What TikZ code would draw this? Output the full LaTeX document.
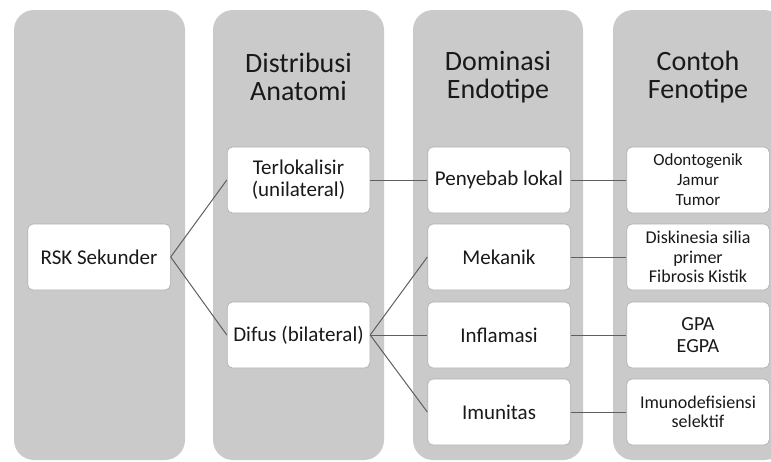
\documentclass[tikz,border=0pt]{standalone}
\usepackage{fontspec}
\setmainfont{Carlito}
\usetikzlibrary{positioning}

\definecolor{colbg}{RGB}{202,202,202}
\definecolor{boxline}{RGB}{175,175,175}
\definecolor{linegray}{RGB}{95,95,95}
\definecolor{teks}{RGB}{25,25,25}

\tikzset{
  kolom/.style={fill=colbg, rounded corners=15},
  kotak/.style={draw=boxline, fill=white, rounded corners=4, line width=0.5pt,
    minimum width=107pt, minimum height=49.5pt, align=center, inner sep=1pt,
    text=teks, font=\fontsize{15.75}{16.5}\selectfont},
  fenotipe/.style={kotak, font=\fontsize{13.5}{14.6}\selectfont},
  judul/.style={align=center, text=teks, font=\fontsize{21}{21}\selectfont},
  garis/.style={draw=linegray, line width=0.75pt},
}

\begin{document}
\begin{tikzpicture}[x=0.75pt, y=-0.75pt]
\useasboundingbox (0,0) rectangle (771,461);
\clip (0,0) rectangle (771,461);

% kolom latar
\fill[kolom] (14,10) rectangle (185,460);
\fill[kolom] (213,10) rectangle (384,460);
\fill[kolom] (413,10) rectangle (583,460);
\fill[kolom] (613,10) rectangle (784,460);

% judul kolom
\node[judul] (jAnatomi) at (298.5,77) {Distribusi\\Anatomi};
\node[judul] (jEndotipe) at (498,77) {Dominasi\\Endotipe};
\node[judul] (jFenotipe) at (698,77) {Contoh\\Fenotipe};

% kotak
\node[kotak] (rsk) at (99,257) {RSK Sekunder};
\node[kotak] (lokal) at (298.5,180) {Terlokalisir\\(unilateral)};
\node[kotak] (difus) at (298.5,335) {Difus (bilateral)};

\node[kotak] (penyebab) at (499,180) {Penyebab lokal};
\node[kotak] (mekanik) at (499,257) {Mekanik};
\node[kotak] (inflamasi) at (499,335) {Inflamasi};
\node[kotak] (imunitas) at (499,412) {Imunitas};

\node[fenotipe, font=\fontsize{12.75}{15}\selectfont] (odonto) at (698,180) {Odontogenik\\Jamur\\Tumor};
\node[fenotipe] (silia) at (698,257) {Diskinesia silia\\primer\\Fibrosis Kistik};
\node[fenotipe, font=\fontsize{15}{17}\selectfont] (gpa) at (698,335) {GPA\\EGPA};
\node[fenotipe] (imuno) at (698,412) {Imunodefisiensi\\selektif};

% garis penghubung
\draw[garis] (rsk.east) -- (lokal.west);
\draw[garis] (rsk.east) -- (difus.west);
\draw[garis] (lokal.east) -- (penyebab.west);
\draw[garis] (difus.east) -- (mekanik.west);
\draw[garis] (difus.east) -- (inflamasi.west);
\draw[garis] (difus.east) -- (imunitas.west);
\draw[garis] (penyebab.east) -- (odonto.west);
\draw[garis] (mekanik.east) -- (silia.west);
\draw[garis] (inflamasi.east) -- (gpa.west);
\draw[garis] (imunitas.east) -- (imuno.west);
\end{tikzpicture}
\end{document}
